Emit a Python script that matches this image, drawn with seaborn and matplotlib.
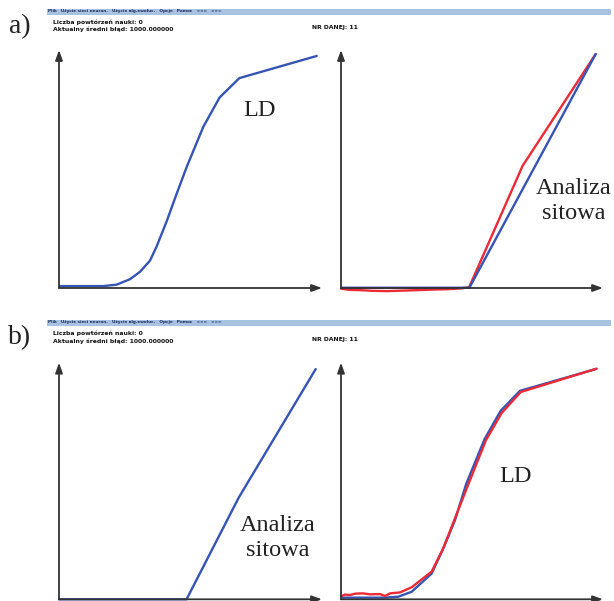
import matplotlib
matplotlib.use("Agg")
import matplotlib.pyplot as plt
from matplotlib.patches import Rectangle
import numpy as np
import pandas as pd
import seaborn as sns

sns.set_theme(style="white")
plt.rcParams["font.family"] = ["DejaVu Sans"]

# ---- curves (x: 0..100 along the horizontal axis, y: 0..100 along the vertical axis) ----
ld_x = [0.4, 16.8, 21.9, 27.0, 30.8, 34.6, 37.1, 40.9, 44.8, 48.6, 54.9, 61.1, 68.6, 98.0]
ld_y = [0.8, 0.8, 1.4, 3.7, 6.8, 11.5, 17.4, 27.9, 39.8, 51.0, 67.8, 80.1, 88.2, 97.5]

sieve_blue_x = [0.3, 49.0, 97.2]
sieve_blue_y = [0.1, 0.1, 98.3]
sieve_red_x = [0.0, 3.4, 7.3, 12.2, 17.6, 23.7, 29.0, 34.0, 40.5, 45.4, 48.9, 69.3, 97.2]
sieve_red_y = [-0.3, -0.8, -0.9, -1.2, -1.3, -1.1, -0.9, -0.7, -0.5, -0.2, 0.3, 51.3, 98.3]

sieve_b_x = [0.0, 48.5, 68.4, 97.6]
sieve_b_y = [0.0, 0.0, 43.1, 97.3]

ld_b_blue_x = [0.3, 16.8, 21.9, 27.0, 34.6, 39.0, 43.5, 47.8, 54.8, 60.9, 68.3, 97.2]
ld_b_blue_y = [0.7, 0.7, 1.1, 3.2, 10.9, 21.4, 33.4, 48.8, 67.7, 79.6, 88.1, 97.3]
ld_b_red_x = [0.3, 1.5, 3.4, 5.5, 8.5, 11.0, 14.9, 16.8, 18.7, 22.5, 27.0, 30.2, 34.6,
              39.0, 48.2, 55.3, 61.3, 68.6, 97.6]
ld_b_red_y = [1.4, 2.0, 1.8, 2.4, 2.5, 2.1, 2.2, 1.4, 2.5, 2.9, 5.1, 7.9, 11.7,
              21.5, 47.5, 67.2, 78.7, 87.6, 97.5]

BLUE = "#3654b4"
RED = "#ec2a36"
AXC = "#333333"

W, H = 614, 601
fig = plt.figure(figsize=(W / 100, H / 100), dpi=100)


def make_ax(left, right, bottom, top):
    ax = fig.add_axes([left / W, 1 - bottom / H, (right - left) / W, (bottom - top) / H])
    ax.set_xlim(0, 100)
    ax.set_ylim(0, 100)
    for s in ax.spines.values():
        s.set_visible(False)
    ax.set_xticks([])
    ax.set_yticks([])
    ax.patch.set_alpha(0)
    arrow = dict(arrowstyle="-|>,head_length=0.5,head_width=0.18", color=AXC, lw=1.3,
                 shrinkA=0, shrinkB=0)
    ax.annotate("", xy=(1, 0), xytext=(0, 0), xycoords="axes fraction",
                arrowprops=arrow, annotation_clip=False)
    ax.annotate("", xy=(0, 1), xytext=(0, 0), xycoords="axes fraction",
                arrowprops=arrow, annotation_clip=False)
    return ax


def draw(ax, xs, ys, color):
    df = pd.DataFrame({"x": xs, "y": ys})
    sns.lineplot(data=df, x="x", y="y", ax=ax, color=color, lw=1.7, sort=False,
                 estimator=None, clip_on=False)
    ax.set_xlabel("")
    ax.set_ylabel("")


def label(ax_x, ax_y, s):
    fig.text(ax_x / W, 1 - ax_y / H, s, family="Liberation Serif", fontsize=17.5,
             ha="center", va="center", color="#222222", linespacing=1.25)


def header(y0):
    fig.patches.append(Rectangle((47 / W, 1 - (y0 + 6) / H), (611 - 47) / W, 6 / H,
                                 transform=fig.transFigure, color="#a8c2e2", lw=0))
    fig.text(48 / W, 1 - (y0 + 2.5) / H,
             "Plik   Użycie sieci neuron.   Użycie alg.ewoluc.   Opcje   Pomoc   <<<   >>>",
             fontsize=3.0, color="#1c2a5a", va="center", ha="left", fontweight="bold")
    fig.text(53 / W, 1 - (y0 + 13.5) / H, "Liczba powtórzeń nauki: 0",
             fontsize=4.4, fontweight="bold", va="center", color="#111111")
    fig.text(53 / W, 1 - (y0 + 21) / H, "Aktualny średni błąd: 1000.000000",
             fontsize=4.4, fontweight="bold", va="center", color="#111111")
    fig.text(312 / W, 1 - (y0 + 19) / H, "NR DANEJ: 11",
             fontsize=4.4, fontweight="bold", va="center", color="#111111")


# panel a
header(8.5)
fig.text(20 / W, 1 - 27 / H, "a)", family="Liberation Serif", fontsize=20,
         ha="center", va="center", color="#222222")
ax1 = make_ax(59, 322, 288, 50)
draw(ax1, ld_x, ld_y, BLUE)
label(260, 110, "LD")

ax2 = make_ax(341, 603, 288, 50)
draw(ax2, sieve_red_x, sieve_red_y, RED)
draw(ax2, sieve_blue_x, sieve_blue_y, BLUE)
label(574, 201, "Analiza\nsitowa")

# panel b
header(320)
fig.text(20 / W, 1 - 338 / H, "b)", family="Liberation Serif", fontsize=20,
         ha="center", va="center", color="#222222")
ax3 = make_ax(59, 322, 599.3, 362.7)
draw(ax3, sieve_b_x, sieve_b_y, BLUE)
label(278, 538, "Analiza\nsitowa")

ax4 = make_ax(341, 603, 599.3, 362.7)
draw(ax4, ld_b_blue_x, ld_b_blue_y, BLUE)
draw(ax4, ld_b_red_x, ld_b_red_y, RED)
label(516, 477, "LD")

fig.savefig("out.png", dpi=100, facecolor="white")
